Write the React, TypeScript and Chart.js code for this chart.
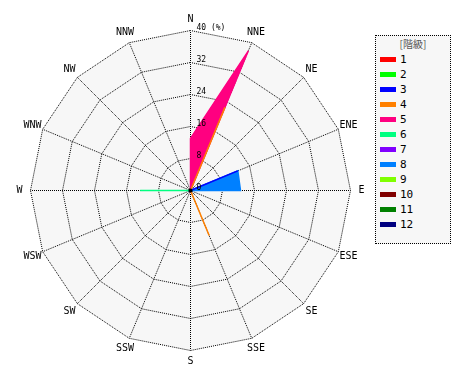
import React, { useEffect, useRef } from "react";
import { Chart, registerables } from "chart.js";

Chart.register(...registerables);

const DIRECTIONS = ["N", "NNE", "NE", "ENE", "E", "ESE", "SE", "SSE", "S", "SSW", "SW", "WSW", "W", "WNW", "NW", "NNW"];
const GRADES = ["1", "2", "3", "4", "5", "6", "7", "8", "9", "10", "11", "12"];
const GRADE_COLORS = ["#ff0000", "#00ff00", "#0000ff", "#ff8000", "#ff0080", "#00ff80", "#8000ff", "#0080ff", "#80ff00", "#800000", "#008000", "#000080"];

// values (%) per direction: N, NNE, NE, ENE, E, ESE, SE, SSE, S, SSW, SW, WSW, W, WNW, NW, NNW
const GRADE_1 = [0, 0, 0, 0, 0, 0, 0, 0, 0, 0, 0, 0, 0, 0, 0, 0];
const GRADE_2 = [0, 0, 0, 0, 0, 0, 0, 0, 0, 0, 0, 0, 0, 0, 0, 0];
const GRADE_3 = [0, 0, 0, 12.8, 0, 0, 0, 0, 0, 0, 0, 0, 0, 0, 0, 0];
const GRADE_4 = [0, 22.5, 0, 0, 0, 0, 0, 12.2, 0, 0, 0, 0, 0, 0, 0, 0];
const GRADE_5 = [13.0, 37.8, 0, 0, 0, 0, 0, 0, 0, 0, 0, 0, 0, 0, 0, 0];
const GRADE_6 = [0, 0, 0, 0, 0, 0, 0, 0, 0, 0, 0, 0, 12.6, 0, 0, 0];
const GRADE_7 = [0, 0, 0, 0, 0, 0, 0, 0, 0, 0, 0, 0, 0, 0, 0, 0];
const GRADE_8 = [0, 0, 0, 12.8, 12.5, 0, 0, 0, 0, 0, 0, 0, 0, 0, 0, 0];
const GRADE_9 = [0, 0, 0, 0, 0, 0, 0, 0, 0, 0, 0, 0, 0, 0, 0, 0];
const GRADE_10 = [0, 0, 0, 0, 0, 0, 0, 0, 0, 0, 0, 0, 0, 0, 0, 0];
const GRADE_11 = [0, 0, 0, 0, 0, 0, 0, 0, 0, 0, 0, 0, 0, 0, 0, 0];
const GRADE_12 = [0, 0, 0, 0, 0, 0, 0, 0, 0, 0, 0, 0, 0, 0, 0, 0];
const SERIES = [GRADE_1, GRADE_2, GRADE_3, GRADE_4, GRADE_5, GRADE_6, GRADE_7, GRADE_8, GRADE_9, GRADE_10, GRADE_11, GRADE_12];

const TICK_VALUES = [0, 8, 16, 24, 32, 40];
const TICK_LABELS = ["0", "8", "16", "24", "32", "40 (%)"];
const LEGEND_TITLE = "[階級]";

const overlay = {
  id: "overlay",
  afterLayout(chart: any) {
    const s = chart.scales.r;
    s.xCenter += 0.5;
    s.yCenter += 0.5;
  },
  afterDraw(chart: any) {
    const s = chart.scales.r;
    const ctx = chart.ctx;
    ctx.save();
    ctx.fillStyle = "#000";
    ctx.beginPath();
    ctx.arc(s.xCenter, s.yCenter, 2, 0, Math.PI * 2);
    ctx.fill();
    ctx.font = '10px "DejaVu Sans Mono"';
    ctx.textAlign = "center";
    ctx.textBaseline = "middle";
    DIRECTIONS.forEach((d, i) => {
      const p = s.getPointPosition(i, s.drawingArea + 11);
      ctx.fillText(d, p.x, p.y);
    });
    ctx.font = '8px "DejaVu Sans Mono"';
    ctx.textAlign = "left";
    TICK_VALUES.forEach((v, i) => {
      const r = s.getDistanceFromCenterForValue(v);
      ctx.fillText(TICK_LABELS[i], s.xCenter + 6, s.yCenter - r - 3);
    });
    ctx.restore();
  },
};

export default function App() {
  const ref = useRef<HTMLCanvasElement | null>(null);
  useEffect(() => {
    if (!ref.current) return;
    const chart = new Chart(ref.current, {
      type: "radar",
      data: {
        labels: DIRECTIONS,
        datasets: SERIES.map((data, i) => ({
          label: GRADES[i],
          data,
          backgroundColor: GRADE_COLORS[i],
          borderColor: GRADE_COLORS[i],
          borderWidth: 1.5,
          pointRadius: 0,
          pointHoverRadius: 0,
          fill: "origin",
          tension: 0,
        })),
      },
      options: {
        animation: false,
        responsive: false,
        devicePixelRatio: 1,
        layout: { padding: { left: 30, top: 30, right: 120, bottom: 30 } },
        plugins: { legend: { display: false }, tooltip: { enabled: false } },
        scales: {
          r: {
            min: 0,
            max: 40,
            backgroundColor: "#f7f7f7",
            ticks: { display: false, stepSize: 8 },
            pointLabels: { display: false },
            grid: { color: "#000", lineWidth: 1, circular: false },
            border: { dash: [1, 1], dashOffset: 0.5 },
            angleLines: { color: "#000", lineWidth: 1, borderDash: [1, 1], borderDashOffset: 0.5 },
          },
        },
      } as any,
      plugins: [overlay],
    });
    return () => chart.destroy();
  }, []);

  return (
    <div style={{ position: "absolute", left: 0, top: 0, width: 470, height: 380, background: "#fff" }}>
      <canvas ref={ref} width={470} height={380} style={{ position: "absolute", left: 0, top: 0 }} />
      <div
        style={{
          position: "absolute",
          left: 375,
          top: 35,
          width: 76,
          height: 209,
          boxSizing: "border-box",
          border: "1px dotted #000",
          background: "#f7f7f7",
          fontFamily: '"DejaVu Sans Mono", monospace',
          fontSize: 11,
          color: "#000",
        }}
      >
        <div style={{ height: 16, lineHeight: "16px", textAlign: "center", color: "#555", fontFamily: '"Noto Sans CJK JP", sans-serif', fontSize: 10 }}>
          {LEGEND_TITLE}
        </div>
        {GRADES.map((g, i) => (
          <div key={g} style={{ height: 15, display: "flex", alignItems: "center" }}>
            <span style={{ display: "inline-block", width: 16, height: 5, marginLeft: 4, marginRight: 4, background: GRADE_COLORS[i] }} />
            <span style={{ lineHeight: "15px" }}>{g}</span>
          </div>
        ))}
      </div>
    </div>
  );
}
